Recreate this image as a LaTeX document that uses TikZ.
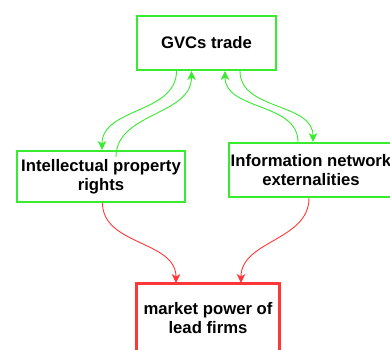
\documentclass[tikz,border=0pt]{standalone}
\usepackage{fontspec}
\setmainfont{Liberation Sans}
\usetikzlibrary{arrows.meta}

\definecolor{linkgreen}{RGB}{55,235,45}
\definecolor{linkred}{RGB}{255,55,55}

\begin{document}
\begin{tikzpicture}[x=1pt,y=-1pt,
    box/.style={draw, fill=white, align=center, inner sep=0pt,
      font=\fontsize{16.7}{18.8}\selectfont\bfseries},
    greenbox/.style={box, draw=linkgreen, line width=2pt},
    redbox/.style={box, draw=linkred, line width=3pt},
    greenlink/.style={-{Stealth[length=9pt,width=8.5pt,inset=2.5pt]},
      draw=linkgreen, line width=0.9pt},
    redlink/.style={-{Stealth[length=9pt,width=8.5pt,inset=2.5pt]},
      draw=linkred, line width=0.9pt}]

    \useasboundingbox (0,0) rectangle (390,349);

    % Boxes
    \node[greenbox, minimum width=139pt, minimum height=54pt] (gvc) at (206.5,43) {GVCs trade};
    \node[greenbox, minimum width=168pt, minimum height=51pt] (ipr) at (101,176.5) {Intellectual property\\rights};
    \node[greenbox, minimum width=164pt, minimum height=54pt] (ine) at (311,170) {Information network\\externalities};
    \node[redbox, minimum width=143pt, minimum height=69pt] (power) at (208,318) {market power of\\lead firms};

    % Two-way links, left side
    \draw[greenlink] ([xshift=-30pt]gvc.south) to[out=-90,in=90] ([xshift=1pt]ipr.north);
    \draw[greenlink] ([xshift=15pt,yshift=-7pt]ipr.north) to[out=90,in=-90] ([xshift=-15pt]gvc.south);

    % Two-way links, right side
    \draw[greenlink] ([xshift=-13pt]ine.north) to[out=90,in=-90] ([xshift=18.5pt]gvc.south);
    \draw[greenlink] ([xshift=33.5pt]gvc.south) to[out=-90,in=90] ([xshift=2pt]ine.north);

    % Both feed into market power
    \draw[redlink] ([xshift=1.5pt]ipr.south) to[out=-90,in=90] ([xshift=-32pt,yshift=-1pt]power.north);
    \draw[redlink] ([xshift=-2pt]ine.south) to[out=-90,in=90] ([xshift=33pt,yshift=-1pt]power.north);

\end{tikzpicture}
\end{document}
